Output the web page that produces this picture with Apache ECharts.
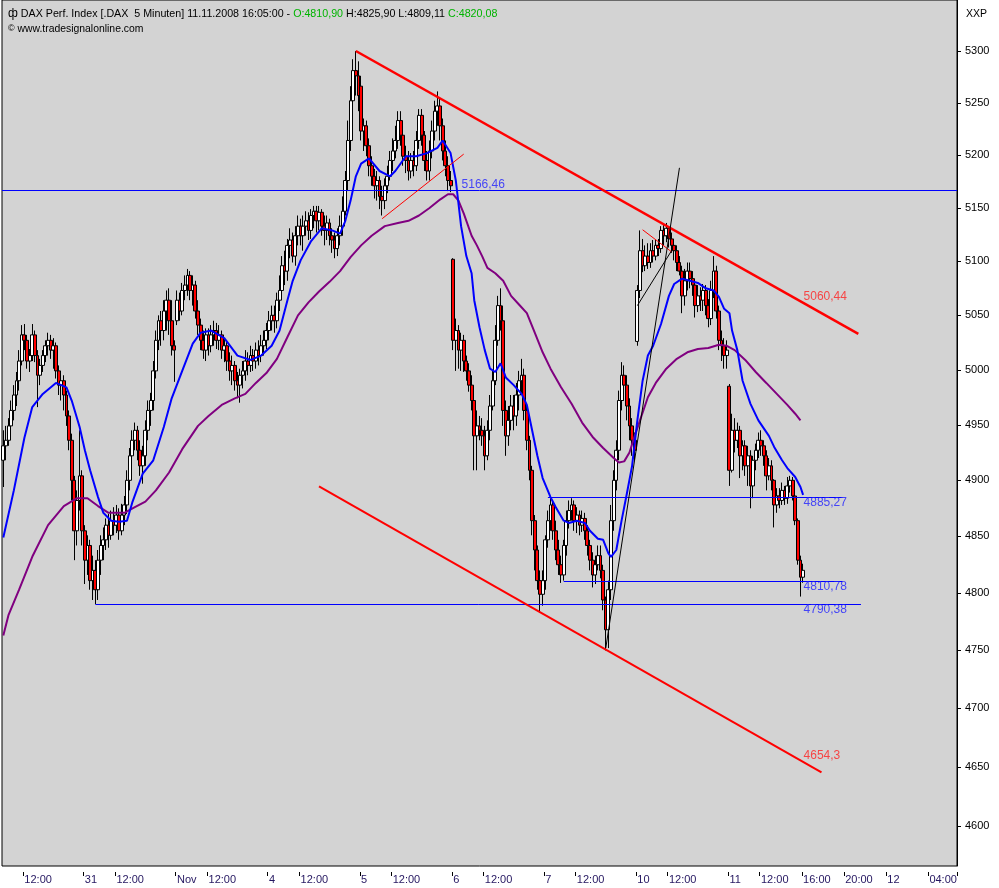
<!DOCTYPE html>
<html>
<head>
<meta charset="utf-8">
<script src="https://cdn.jsdelivr.net/npm/echarts@6/dist/echarts.min.js"></script>
<style>html,body{margin:0;padding:0;background:#fff}#c{width:999px;height:888px}</style>
</head>
<body>
<div id="c"></div>
<script>
// ---- trading sessions (15-minute bars) ----
const sessionDays = ['30.10','31.10','03.11','04.11','05.11','06.11','07.11','10.11','11.11'];
const firstBarTime = '10:00', sessionOpen = '09:00', sessionClose = '17:30', lastBarTime = '16:00';
const futureDays = ['11.11','12.11'];
const futureEnd = '06:30';

// ---- OHLC ----
const opens = [
4918,4931,4936,4949,4963,4977,4990,5008,5032,5027,5008,5013,5032,5013,4995,5004,5013,5022,5027,5018,5022,4999,4986,4990,4977,4958,4936,4900,4855,4882,4904,
4855,4829,4842,4811,4820,4803,4829,4842,4847,4860,4851,4864,4860,4869,4855,4869,4878,4900,4922,4936,4945,4927,4913,4922,4945,4963,4972,4999,5027,5045,5036,5054,5064,5045,5022,
5045,5064,5054,5073,5078,5087,5073,5078,5054,5041,5027,5018,5032,5022,5032,5036,5027,5032,5018,5022,5008,4999,5004,4990,4986,4995,4999,5008,5004,5013,5008,5018,5013,5022,5027,
5036,5045,5050,5045,5064,5073,5096,5091,5115,5120,5105,5124,5133,5124,5133,5138,5129,5143,5147,5138,5146,5133,5129,5136,5124,5120,5112,5124,5133,5147,5176,5214,5252,5281,5276,
5266,5223,5228,5209,5190,5180,5171,5176,5161,5157,5171,5180,5195,5204,5214,5233,5219,5199,5195,5185,5195,5190,5214,5238,5219,5195,5185,5204,5223,5242,5247,5228,5204,5190,5176,
5102,5027,5036,5018,5027,5008,4999,4986,4972,4940,4949,4945,4940,4922,4945,4967,4990,5027,5059,5045,4963,4940,4954,4967,4958,4977,4990,4995,4963,4936,4909,4864,4838,4811,4799,
4811,4847,4864,4878,4855,4838,4825,4816,4842,4864,4873,4878,4864,4869,4860,4866,4855,4842,4829,4816,4825,4833,4820,4794,4768,4803,4864,4900,4927,4972,4995,4986,4967,4949,4936,
5026,5073,5110,5096,5105,5099,5110,5105,5115,5112,5129,5124,5131,5121,5115,5110,5099,5091,5068,5082,5091,5084,5078,5059,5068,5064,5073,5059,5047,5073,5091,5054,5027,5022,5013,
4985,4909,4945,4936,4945,4922,4931,4913,4922,4895,4918,4927,4936,4931,4922,4904,4913,4900,4878,4886,4882,4891,4884,4895,4900,4886,4864,4829,4814
];
const closes = [
4931,4936,4949,4963,4977,4990,5008,5032,5027,5008,5013,5032,5013,4995,5004,5013,5022,5027,5018,5022,4999,4986,4990,4977,4958,4936,4900,4855,4882,4904,4855,
4829,4842,4811,4820,4803,4829,4842,4847,4860,4851,4864,4860,4869,4855,4869,4878,4900,4922,4936,4945,4927,4913,4922,4945,4963,4972,4999,5027,5045,5036,5054,5064,5045,5022,5018,
5064,5054,5073,5078,5087,5073,5078,5054,5041,5027,5018,5032,5022,5032,5036,5027,5032,5018,5022,5008,4999,5004,4990,4986,4995,4999,5008,5004,5013,5008,5018,5013,5022,5027,5036,
5045,5050,5045,5064,5073,5096,5091,5115,5120,5105,5124,5133,5124,5133,5138,5129,5143,5147,5138,5146,5133,5129,5136,5124,5120,5112,5124,5133,5147,5176,5214,5252,5281,5276,5257,
5223,5228,5209,5190,5180,5171,5176,5161,5157,5171,5180,5195,5204,5214,5233,5219,5199,5195,5185,5195,5190,5214,5238,5219,5195,5185,5204,5223,5242,5247,5228,5204,5190,5176,5171,
5027,5036,5018,5027,5008,4999,4986,4972,4940,4949,4945,4940,4922,4945,4967,4990,5027,5059,5045,4963,4940,4954,4967,4958,4977,4990,4995,4963,4936,4909,4864,4838,4811,4799,4811,
4847,4864,4878,4855,4838,4825,4816,4842,4864,4873,4878,4864,4869,4860,4866,4855,4842,4829,4816,4825,4833,4820,4794,4768,4803,4864,4900,4927,4972,4995,4986,4967,4949,4936,4927,
5073,5110,5096,5105,5099,5110,5105,5115,5112,5129,5124,5131,5121,5115,5110,5099,5091,5068,5082,5091,5084,5078,5059,5068,5064,5073,5059,5047,5073,5091,5054,5027,5022,5013,5018,
4909,4945,4936,4945,4922,4931,4913,4922,4895,4918,4927,4936,4931,4922,4904,4913,4900,4878,4886,4882,4891,4884,4895,4900,4886,4864,4829,4814,4820.08
];
const lows = [
4894,4918,4931,4940,4954,4967,4981,5004,5018,5001,4998,5008,5007,4966,4986,4998,5007,5013,5010,5001,4992,4977,4972,4963,4949,4927,4882,4829,4842,4873,4842,
4808,4816,4803,4794,4790.38,4794,4816,4829,4838,4840,4847,4851,4853,4847,4851,4860,4870,4891,4913,4927,4918,4904,4897,4913,4936,4949,4963,4992,5018,5022,5027,5036,5032,5013,4989,
5041,5045,5050,5064,5068,5064,5059,5047,5032,5018,5010,5008,5013,5016,5022,5019,5018,5010,5007,4999,4990,4986,4981,4974,4970,4983,4990,4995,4998,4999,5001,5004,5007,5013,5019,
5027,5036,5034,5038,5054,5065,5078,5082,5103,5099,5096,5115,5115,5110,5124,5120,5121,5131,5127,5129,5124,5115,5120,5115,5108,5103,5105,5115,5124,5143,5166,5204,5242,5257,5242,
5214,5204,5199,5180,5171,5159,5157,5149,5143,5149,5164,5176,5185,5197,5206,5209,5190,5183,5176,5178,5180,5185,5206,5209,5185,5176,5176,5197,5214,5228,5214,5195,5180,5166,5165,
5018,4999,5001,4999,4998,4990,4980,4963,4909,4909,4936,4931,4909,4918,4936,4963,4986,5022,5036,4949,4922,4931,4945,4945,4949,4963,4977,4954,4927,4900,4851,4820,4803,4783,4789,
4803,4840,4855,4847,4829,4816,4809,4811,4833,4857,4864,4855,4853,4851,4854,4847,4833,4820,4805,4808,4820,4813,4785,4750,4752,4794,4855,4891,4918,4963,4972,4954,4936,4922,4918,
5022,5066,5090,5091,5093,5094,5099,5101,5105,5108,5115,5118,5113,5108,5101,5091,5087,5052,5059,5073,5075,5068,5048,5053,5054,5054,5050,5039,5041,5066,5047,5018,5008,5001,5001,
4895,4907,4925,4929,4902,4909,4904,4895,4875,4884,4909,4920,4922,4913,4891,4900,4891,4858,4871,4875,4878,4878,4879,4889,4882,4860,4825,4797,4809.11
];
const highs = [
4945,4949,4956,4972,4986,4998,5018,5041,5042,5032,5019,5042,5036,5018,5010,5018,5027,5034,5032,5029,5025,5004,4995,4995,4981,4963,4942,4904,4891,4945,4909,
4860,4851,4847,4833,4829,4838,4851,4858,4866,4870,4873,4876,4878,4875,4879,4886,4909,4929,4945,4952,4949,4936,4931,4954,4972,4979,5008,5036,5050,5054,5064,5073,5075,5064,5027,
5073,5071,5080,5087,5093,5091,5087,5082,5064,5047,5036,5038,5038,5041,5045,5043,5041,5036,5029,5027,5016,5013,5008,4998,5001,5008,5018,5016,5022,5019,5025,5027,5032,5036,5043,
5054,5059,5059,5071,5087,5105,5110,5121,5131,5127,5133,5143,5140,5143,5147,5146,5149,5152,5152,5152,5149,5143,5143,5140,5131,5127,5131,5143,5161,5185,5233,5266,5292,5300,5290,
5276,5235,5233,5216,5199,5187,5185,5180,5171,5178,5190,5204,5216,5228,5242,5242,5225,5209,5204,5202,5204,5223,5244,5244,5223,5204,5214,5233,5252,5261,5254,5235,5214,5199,5185,
5103,5047,5041,5034,5032,5013,5006,4995,4977,4963,4958,4956,4949,4954,4977,4999,5041,5068,5075,5059,4972,4967,4977,4977,4988,4999,5010,5001,4967,4940,4913,4869,4842,4820,4820,
4851,4873,4884,4882,4864,4847,4833,4847,4873,4882,4884,4882,4876,4873,4873,4871,4860,4847,4836,4833,4842,4842,4825,4797,4811,4878,4909,4936,4981,5007,5004,4995,4974,4956,4943,
5078,5129,5121,5115,5117,5117,5120,5120,5121,5133,5134,5136,5132,5127,5121,5115,5105,5096,5093,5099,5099,5091,5082,5078,5076,5079,5078,5065,5082,5105,5096,5059,5036,5029,5027,
4987,4960,4956,4952,4949,4936,4936,4931,4927,4922,4933,4943,4945,4936,4927,4920,4918,4901,4893,4893,4898,4895,4903,4904,4903,4889,4866,4833,4825.9
];

// ---- moving averages [bar index, value] ----
const fastMA = [[0,4849],[4,4891],[8,4938],[11,4966],[15,4978],[20,4988],[24,4984],[26,4972],[29,4948],[31,4927],[33,4909],[36,4885],[38,4871],[41,4864],[44,4863],[47,4864],[49,4880],[53,4906],[57,4918],[61,4948],[64,4974],[68,4999],[72,5024],[75,5034],[79,5036],[84,5029],[89,5013],[94,5009],[98,5013],[102,5022],[105,5036],[108,5064],[110,5082],[113,5101],[117,5119],[121,5131],[125,5129],[128,5126],[130,5138],[132,5157],[134,5180],[136,5192],[139,5197],[143,5185],[147,5180],[149,5185],[153,5199],[157,5199],[161,5202],[165,5207],[167,5214],[170,5202],[172,5176],[174,5133],[176,5105],[178,5089],[179,5064],[181,5039],[183,5018],[185,5001],[187,4998],[189,5006],[191,4993],[194,4986],[197,4978],[199,4968],[201,4945],[203,4922],[205,4902],[208,4885],[210,4876],[213,4864],[215,4862],[218,4864],[221,4862],[223,4855],[226,4848],[228,4847],[230,4835],[231,4832],[233,4838],[235,4864],[237,4888],[239,4913],[241,4954],[243,4990],[245,5013],[247,5022],[250,5042],[253,5068],[255,5079],[258,5084],[261,5082],[264,5080],[267,5075],[270,5073],[272,5067],[274,5056],[276,5052],[277,5036],[279,5018],[281,4990],[284,4969],[287,4954],[291,4940],[293,4930],[296,4918],[298,4911],[301,4903],[303,4894],[304,4887]];
const slowMA = [[0,4763],[2,4781],[6,4803],[11,4832],[17,4860],[23,4877],[28,4884],[32,4884],[36,4877],[40,4871],[46,4871],[50,4876],[54,4881],[58,4891],[63,4907],[68,4928],[74,4949],[78,4958],[83,4968],[88,4974],[92,4978],[96,4988],[100,4997],[104,5010],[108,5030],[112,5050],[116,5062],[120,5072],[124,5081],[128,5091],[132,5104],[136,5115],[140,5124],[145,5133],[150,5136],[154,5138],[158,5143],[162,5150],[166,5158],[169,5163],[171,5163],[173,5157],[175,5145],[178,5124],[180,5115],[182,5105],[184,5094],[187,5089],[190,5082],[193,5068],[196,5060],[199,5052],[202,5034],[205,5016],[208,5001],[212,4984],[216,4969],[220,4952],[224,4939],[228,4929],[232,4920],[234,4916],[236,4917],[238,4925],[240,4940],[242,4954],[245,4975],[248,4988],[252,5001],[256,5010],[260,5016],[264,5019],[268,5020],[272,5023],[275,5022],[278,5018],[282,5009],[286,4998],[290,4988],[294,4978],[298,4968],[301,4960],[303,4954]];

// ---- drawn lines [start bar, start value, end bar, end value] ----
const upperTrend = [134, 5300, 325, 5033];
const lowerTrend = [120, 4894.5, 311, 4645.3];
const thinRed1 = [144, 5140, 175, 5201];
const thinRed2 = [243, 5129.6, 254, 5109];
const thinBlack1 = [229, 4752, 257, 5188];
const thinBlack2 = [241, 5059, 254, 5110];
const level5166 = 5166.46;
const level4885 = [207, 4885.27, 319];
const level4810 = [213, 4810.78, 319];
const level4790 = [35, 4790.38, 326];

// ---- line value labels [bar, value, text, side] ----
const labelsBlue = [[174, 5166.46, '5166,46', 'bottom'], [304, 4885.27, '4885,27', 'top'], [304, 4810.78, '4810,78', 'top'], [304, 4790.38, '4790,38', 'top']];
const labelsRed = [[304, 5062, '5060,44', 'bottom'], [304, 4654.5, '4654,3', 'bottom']];

// ---- axis ticks ----
const yTicks = [4600,4650,4700,4750,4800,4850,4900,4950,5000,5050,5100,5150,5200,5250,5300];
const tickCats = ['30.10 12:00','31.10 09:00','31.10 12:00','03.11 09:00','03.11 12:00','04.11 09:00','04.11 12:00','05.11 09:00','05.11 12:00','06.11 09:00','06.11 12:00','07.11 09:00','07.11 12:00','10.11 09:00','10.11 12:00','11.11 09:00','11.11 12:00','11.11 16:00','11.11 20:00','12.11 00:00','12.11 04:00'];
const tickTexts = ['12:00','31','12:00','Nov','12:00','4','12:00','5','12:00','6','12:00','7','12:00','10','12:00','11','12:00','16:00','20:00','12','04:00'];

// ---- build categories ----
function toMin(s){const p=s.split(':');return +p[0]*60 + +p[1];}
function hm(m){const h=Math.floor(m/60),mm=m%60;return (h<10?'0':'')+h+':'+(mm<10?'0':'')+mm;}
const cats = [];
sessionDays.forEach((d,di)=>{
  const s = di===0 ? toMin(firstBarTime) : toMin(sessionOpen);
  const e = di===sessionDays.length-1 ? toMin(lastBarTime) : toMin(sessionClose);
  for(let m=s;m<=e;m+=15) cats.push(d+' '+hm(m));
});
for(let m=toMin(lastBarTime)+15;m<1440;m+=15) cats.push(futureDays[0]+' '+hm(m));
for(let m=0;m<=toMin(futureEnd);m+=15) cats.push(futureDays[1]+' '+hm(m));

const tickMap = {}; tickCats.forEach((c,i)=>tickMap[c]=tickTexts[i]);
const ohlc = opens.map((o,i)=>[o, closes[i], lows[i], highs[i]]);

function seg(a, style){return [{coord:[a[0],a[1]], lineStyle:style},{coord:[a[2],a[3]]}];}
function hseg(a, style){return [{coord:[a[0],a[1]], lineStyle:style},{coord:[a[2],a[1]]}];}
const RED='#ff0000', BLUE='#0000ff';
const FONT='"Liberation Sans", Arial, sans-serif';

function labelItems(arr, color){
  return arr.map(a=>({value:[a[0],a[1]], label:{show:true, formatter:a[2], color:color, position:'right', distance:0, align:'left', verticalAlign:a[3], fontSize:12, fontFamily:FONT}}));
}

const chart = echarts.init(document.getElementById('c'), null, {renderer:'canvas'});
chart.setOption({
  animation:false,
  backgroundColor:'#ffffff',
  title:[
    {left:3, top:3, text:'{i|ф} DAX Perf. Index [.DAX  5 Minuten] 11.11.2008 16:05:00 - {g|O:4810,90} H:4825,90 L:4809,11 {g|C:4820,08}',
     textStyle:{fontSize:10.7, fontWeight:'normal', color:'#000', fontFamily:FONT,
       rich:{g:{color:'#00b400', fontSize:10.7, fontFamily:FONT}, i:{fontSize:12, color:'#000', fontFamily:FONT}}}},
    {left:3, top:19, text:'{i|©} www.tradesignalonline.com',
     textStyle:{fontSize:10.4, fontWeight:'normal', color:'#000', fontFamily:FONT, rich:{i:{fontSize:9, color:'#000'}}}},
    {left:961, top:4, text:'XXP', textStyle:{fontSize:10.5, fontWeight:'normal', color:'#000', fontFamily:FONT}}
  ],
  grid:{left:2, right:42, top:-1, bottom:22, show:true, backgroundColor:'#d3d3d3', borderColor:'#000', borderWidth:1},
  xAxis:{type:'category', data:cats, boundaryGap:true,
    axisLine:{show:false},
    axisTick:{show:true, interval:(i,v)=>tickMap[v]!==undefined, length:10, lineStyle:{color:'#000', type:[0,6,4,30]}},
    axisLabel:{interval:(i,v)=>tickMap[v]!==undefined, formatter:v=>tickMap[v]||'', align:'left', margin:8, color:'#241660', fontSize:11, fontFamily:FONT},
    splitLine:{show:false}},
  yAxis:{type:'log', logBase:10, position:'right', min:4566.5, max:5349.6,
    axisLine:{show:true, lineStyle:{color:'#000'}},
    axisTick:{show:true, customValues:yTicks, length:4, lineStyle:{color:'#000'}},
    axisLabel:{customValues:yTicks, formatter:v=>String(Math.round(v)), color:'#000', fontSize:11, margin:8, fontFamily:FONT},
    splitLine:{show:false}},
  series:[
    {type:'candlestick', data:ohlc, barWidth:3.4,
     itemStyle:{color:'#ffffff', color0:'#ff0000', borderColor:'#000', borderColor0:'#000', borderWidth:1},
     markLine:{silent:true, symbol:['none','none'], label:{show:false}, animation:false,
       data:[
         {yAxis:level5166, lineStyle:{color:BLUE, width:1, type:'solid'}},
         hseg(level4885,{color:BLUE,width:1,type:'solid'}),
         hseg(level4810,{color:BLUE,width:1,type:'solid'}),
         hseg(level4790,{color:BLUE,width:1,type:'solid'}),
         seg(upperTrend,{color:RED,width:2.5,type:'solid'}),
         seg(lowerTrend,{color:RED,width:2,type:'solid'}),
         seg(thinRed1,{color:RED,width:1,type:'solid'}),
         seg(thinRed2,{color:RED,width:1,type:'solid'}),
         seg(thinBlack1,{color:'#000',width:1,type:'solid'}),
         seg(thinBlack2,{color:'#000',width:1,type:'solid'})
       ]}},
    {type:'line', data:slowMA, symbol:'none', lineStyle:{color:'#800080', width:2}, z:3},
    {type:'line', data:fastMA, symbol:'none', lineStyle:{color:'#0000ff', width:2}, z:4},
    {type:'scatter', symbolSize:1, itemStyle:{color:'rgba(0,0,0,0)'}, data:labelItems(labelsBlue, '#2020ff').concat(labelItems(labelsRed, '#ff2020')), z:6}
  ]
});
</script>
</body>
</html>
